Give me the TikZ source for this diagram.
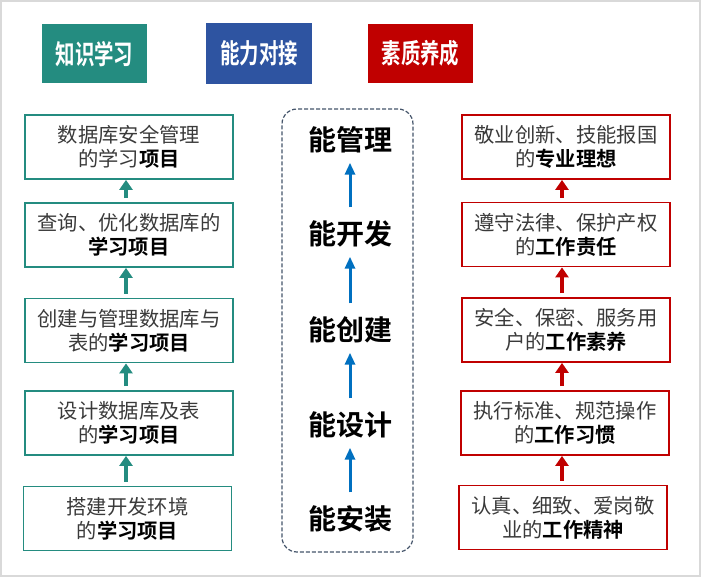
\documentclass[tikz,border=0pt]{standalone}
\usepackage{fontspec}
\setmainfont{Noto Sans CJK SC}[BoldFont={Noto Sans CJK SC Bold}]
\usetikzlibrary{arrows.meta}
\definecolor{tealc}{HTML}{248C80}
\definecolor{bluec}{HTML}{2E54A1}
\definecolor{redc}{HTML}{C00000}
\definecolor{arrowblue}{HTML}{0070C0}
\definecolor{frameblue}{HTML}{44546A}
\definecolor{txtgray}{HTML}{3A3A3A}
\tikzset{
  header/.style={minimum width=105pt,minimum height=59pt,inner sep=0pt,text=white,font=\fontsize{27}{30}\selectfont\bfseries},
  lbox/.style={draw=tealc,line width=1.8pt,minimum width=208pt,minimum height=64pt,inner sep=0pt,align=center,text=txtgray,font=\fontsize{20.3}{24}\selectfont},
  rbox/.style={lbox,draw=redc},
  abil/.style={inner sep=0pt,text height=20pt,text depth=5pt,font=\fontsize{28}{30}\selectfont\bfseries,text=black},
  tealarrow/.style={draw=tealc,line width=4.5pt,-{Triangle[width=13pt,length=10pt]}},
  redarrow/.style={tealarrow,draw=redc},
  bluearrow/.style={draw=arrowblue,line width=3pt,-{Triangle[width=10pt,length=12pt]}},
  dashframe/.style={draw=frameblue,line width=1.2pt,dash pattern=on 4pt off 2pt,rounded corners=15pt,minimum width=131pt,minimum height=443pt,inner sep=0pt}
}
\newcommand{\bk}[1]{\textcolor{black}{\textbf{#1}}}
\newcommand{\hd}[1]{\scalebox{0.72}[1]{#1}}
\begin{document}
\begin{tikzpicture}[x=1pt,y=-1pt]
\useasboundingbox (0,0) rectangle (702,578);
\draw[draw=gray!30,line width=2pt] (1,1) rectangle (700,576);
% headers
\node[header,fill=tealc] (h1) at (94.5,54) {\hd{知识学习}};
\node[header,fill=bluec,minimum width=106pt,minimum height=61pt] (h2) at (259,53.5) {\hd{能力对接}};
\node[header,fill=redc] (h3) at (420.5,53.5) {\hd{素质养成}};
% left column
\node[lbox] (l1) at (129,147) {数据库安全管理\\的学习\bk{项目}};
\node[lbox] (l2) at (129,235) {查询、优化数据库的\\\bk{学习项目}};
\node[lbox] (l3) at (129,330.5) {创建与管理数据库与\\表的\bk{学习项目}};
\node[lbox] (l4) at (129,423) {设计数据库及表\\的\bk{学习项目}};
\node[lbox] (l5) at (127.5,518.5) {搭建开发环境\\的\bk{学习项目}};
\coordinate (lx) at (126,0);
\foreach \a/\b in {l2/l1,l3/l2,l4/l3,l5/l4}
  \draw[tealarrow] ([yshift=4pt]lx |- \a.north) -- (lx |- \b.south);
% middle column
\node[dashframe] (fr) at (347.5,330.5) {};
\node[abil] (m1) at (350,143) {能管理};
\node[abil] (m2) at (350,237) {能开发};
\node[abil] (m3) at (350,333) {能创建};
\node[abil] (m4) at (350,428) {能设计};
\node[abil] (m5) at (350,522) {能安装};
\foreach \a/\b in {m2/m1,m3/m2,m4/m3,m5/m4}
  \draw[bluearrow] ([yshift=17pt]\a.north) -- ([yshift=-7pt]\b.south);
% right column
\node[rbox] (r1) at (566,147) {敬业创新、技能报国\\的\bk{专业理想}};
\node[rbox] (r2) at (566,234.5) {遵守法律、保护产权\\的\bk{工作责任}};
\node[rbox] (r3) at (566,330) {安全、保密、服务用\\户的\bk{工作素养}};
\node[rbox] (r4) at (565,423) {执行标准、规范操作\\的\bk{工作习惯}};
\node[rbox] (r5) at (563,517.5) {认真、细致、爱岗敬\\业的\bk{工作精神}};
\coordinate (rx) at (562,0);
\foreach \a/\b in {r2/r1,r3/r2,r4/r3,r5/r4}
  \draw[redarrow] ([yshift=4pt]rx |- \a.north) -- (rx |- \b.south);
\end{tikzpicture}
\end{document}
